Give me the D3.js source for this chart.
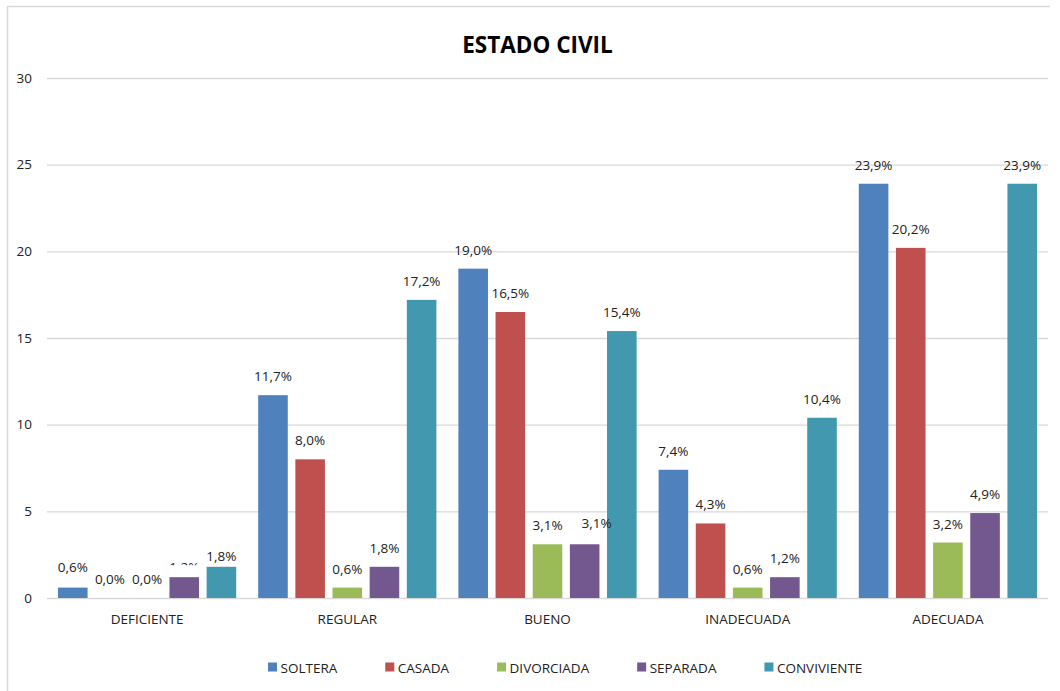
<!DOCTYPE html>
<html><head><meta charset="utf-8">
<script src="https://cdn.jsdelivr.net/npm/d3@7"></script>
<style>body{margin:0;background:#fff}svg{display:block}</style>
</head><body>
<svg id="c" width="1060" height="691"></svg>
<script>
const categories = ["DEFICIENTE","REGULAR","BUENO","INADECUADA","ADECUADA"];
const series = ["SOLTERA","CASADA","DIVORCIADA","SEPARADA","CONVIVIENTE"];
const soltera     = [0.6, 11.7, 19.0, 7.4, 23.9];
const casada      = [0.0, 8.0, 16.5, 4.3, 20.2];
const divorciada  = [0.0, 0.6, 3.1, 0.6, 3.2];
const separada    = [1.2, 1.8, 3.1, 1.2, 4.9];
const conviviente = [1.8, 17.2, 15.4, 10.4, 23.9];
const yTicks = [0,5,10,15,20,25,30];
const title = "ESTADO CIVIL";

const values = [soltera, casada, divorciada, separada, conviviente];
const colors = ["#4F81BD","#C0504D","#9BBB59","#72588F","#4198AF"];
// label nudges (Excel overlap avoidance), keyed "series|category"
const nudge = {"SOLTERA|DEFICIENTE":[0,-2],"SEPARADA|DEFICIENTE":[0,9,true],"CONVIVIENTE|DEFICIENTE":[0,8],"SEPARADA|BUENO":[12,-2]};

const svg = d3.select("#c");
const font = "'Open Sans', 'DejaVu Sans', sans-serif";
const fs = 13.5;
const L = 47, R = 1048, T = 78, B = 598;

// frame
svg.append("line").attr("x1",7.5).attr("x2",7.5).attr("y1",6).attr("y2",691).attr("stroke","#d9d9d9").attr("stroke-width",1.5);
svg.append("line").attr("x1",7).attr("x2",1050).attr("y1",6.5).attr("y2",6.5).attr("stroke","#d9d9d9").attr("stroke-width",1.5);

svg.append("text").attr("x",537.5).attr("y",53).attr("text-anchor","middle")
  .attr("font-family",font).attr("font-weight","bold").attr("font-size",22.5).attr("fill","#000").text(title);

const y = d3.scaleLinear().domain([0,30]).range([B,T]);
const x0 = d3.scaleBand().domain(categories).range([L,R]);
const x1 = d3.scaleBand().domain(series).range([0,x0.bandwidth()]).paddingInner(0.204).paddingOuter(0.296);

const gy = svg.append("g").attr("transform",`translate(${L},0)`)
  .call(d3.axisLeft(y).tickValues(yTicks).tickSize(-(R-L)).tickPadding(15).tickFormat(d3.format("d")));
gy.select(".domain").remove();
gy.selectAll(".tick line").attr("stroke","#d9d9d9").attr("stroke-width",1.3);
gy.selectAll(".tick text").attr("font-family",font).attr("font-size",fs).attr("fill","#222");

const gx = svg.append("g").attr("transform",`translate(0,${B})`)
  .call(d3.axisBottom(x0).tickSize(0).tickPadding(16));
gx.select(".domain").remove();
gx.selectAll(".tick text").attr("font-family",font).attr("font-size",fs).attr("fill","#222");

const fmt = v => v.toFixed(1).replace(".",",") + "%";
const defs = svg.append("defs");

series.forEach((s,si) => {
  categories.forEach((c,ci) => {
    const v = values[si][ci];
    const bx = x0(c) + x1(s);
    svg.append("rect").attr("x",bx).attr("y",y(v)).attr("width",x1.bandwidth()).attr("height",y(0)-y(v)).attr("fill",colors[si]);
  });
});
series.forEach((s,si) => {
  categories.forEach((c,ci) => {
    const v = values[si][ci];
    const bx = x0(c) + x1(s);
    const n = nudge[s+"|"+c] || [0,0];
    const t = svg.append("text").attr("x",bx + x1.bandwidth()/2 + n[0]).attr("y",y(v)-14+n[1])
      .attr("text-anchor","middle").attr("font-family",font).attr("font-size",fs).attr("fill","#222").text(fmt(v));
    if (n[2]) {
      const id = "clip"+si+ci;
      defs.append("clipPath").attr("id",id).append("rect").attr("x",bx-10).attr("y",y(v)-30).attr("width",x1.bandwidth()+20).attr("height",18);
      t.attr("clip-path",`url(#${id})`);
    }
  });
});

// legend
const lg = svg.append("g");
let cx = 0;
series.forEach((s,si) => {
  const g = lg.append("g").attr("transform",`translate(${cx},0)`);
  g.append("rect").attr("x",0).attr("y",-10).attr("width",9).attr("height",9).attr("fill",colors[si]);
  const t = g.append("text").attr("x",12.5).attr("y",0).attr("font-family",font).attr("font-size",fs).attr("fill","#222").text(s);
  cx += 12.5 + t.node().getComputedTextLength() + 48;
});
lg.attr("transform",`translate(${268},672.5)`);
</script>
</body></html>
